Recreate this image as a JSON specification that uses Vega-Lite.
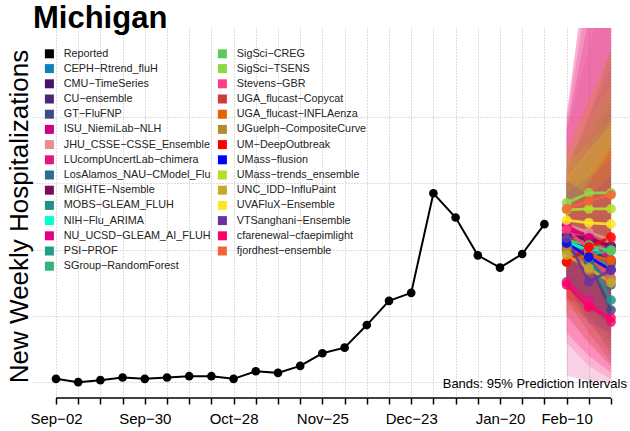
{
  "$schema": "https://vega.github.io/schema/vega-lite/v6.json",
  "width": 595,
  "height": 370,
  "autosize": {"type": "none"},
  "padding": {"left": 33, "top": 28, "right": 2, "bottom": 33},
  "background": "white",
  "config": {"view": {"stroke": null}, "font": "Liberation Sans"},
  "title": {"text": "Michigan", "anchor": "start", "frame": "group", "fontSize": 31, "fontWeight": "bold", "font": "Liberation Sans", "color": "black", "baseline": "alphabetic", "offset": 0, "dy": 31},
  "data": {"values": [
    {"model": "Reported", "date": "2023-09-02", "value": 11},
    {"model": "Reported", "date": "2023-09-09", "value": 1},
    {"model": "Reported", "date": "2023-09-16", "value": 7},
    {"model": "Reported", "date": "2023-09-23", "value": 15},
    {"model": "Reported", "date": "2023-09-30", "value": 11},
    {"model": "Reported", "date": "2023-10-07", "value": 15},
    {"model": "Reported", "date": "2023-10-14", "value": 19},
    {"model": "Reported", "date": "2023-10-21", "value": 19},
    {"model": "Reported", "date": "2023-10-28", "value": 11},
    {"model": "Reported", "date": "2023-11-04", "value": 34},
    {"model": "Reported", "date": "2023-11-11", "value": 29},
    {"model": "Reported", "date": "2023-11-18", "value": 50},
    {"model": "Reported", "date": "2023-11-25", "value": 88},
    {"model": "Reported", "date": "2023-12-02", "value": 105},
    {"model": "Reported", "date": "2023-12-09", "value": 173},
    {"model": "Reported", "date": "2023-12-16", "value": 246},
    {"model": "Reported", "date": "2023-12-23", "value": 270},
    {"model": "Reported", "date": "2023-12-30", "value": 570},
    {"model": "Reported", "date": "2024-01-06", "value": 497},
    {"model": "Reported", "date": "2024-01-13", "value": 383},
    {"model": "Reported", "date": "2024-01-20", "value": 346},
    {"model": "Reported", "date": "2024-01-27", "value": 387},
    {"model": "Reported", "date": "2024-02-03", "value": 477},
    {"model": "CEPH−Rtrend_fluH", "date": "2024-02-10", "value": 429, "lower": 300, "upper": 600},
    {"model": "CEPH−Rtrend_fluH", "date": "2024-02-17", "value": 399, "lower": 230, "upper": 690},
    {"model": "CEPH−Rtrend_fluH", "date": "2024-02-24", "value": 363, "lower": 170, "upper": 780},
    {"model": "CMU−TimeSeries", "date": "2024-02-10", "value": 444, "lower": 320, "upper": 590},
    {"model": "CMU−TimeSeries", "date": "2024-02-17", "value": 429, "lower": 260, "upper": 650},
    {"model": "CMU−TimeSeries", "date": "2024-02-24", "value": 411, "lower": 200, "upper": 720},
    {"model": "CU−ensemble", "date": "2024-02-10", "value": 435, "lower": 290, "upper": 620},
    {"model": "CU−ensemble", "date": "2024-02-17", "value": 405, "lower": 210, "upper": 720},
    {"model": "CU−ensemble", "date": "2024-02-24", "value": 363, "lower": 140, "upper": 840},
    {"model": "GT−FluFNP", "date": "2024-02-10", "value": 414, "lower": 300, "upper": 560},
    {"model": "GT−FluFNP", "date": "2024-02-17", "value": 363, "lower": 200, "upper": 600},
    {"model": "GT−FluFNP", "date": "2024-02-24", "value": 218, "lower": 80, "upper": 560},
    {"model": "ISU_NiemiLab−NLH", "date": "2024-02-10", "value": 459, "lower": 250, "upper": 760},
    {"model": "ISU_NiemiLab−NLH", "date": "2024-02-17", "value": 444, "lower": 150, "upper": 1100},
    {"model": "ISU_NiemiLab−NLH", "date": "2024-02-24", "value": 399, "lower": 60, "upper": 1500},
    {"model": "JHU_CSSE−CSSE_Ensemble", "date": "2024-02-10", "value": 474, "lower": 280, "upper": 760},
    {"model": "JHU_CSSE−CSSE_Ensemble", "date": "2024-02-17", "value": 453, "lower": 200, "upper": 1000},
    {"model": "JHU_CSSE−CSSE_Ensemble", "date": "2024-02-24", "value": 429, "lower": 120, "upper": 1300},
    {"model": "LUcompUncertLab−chimera", "date": "2024-02-10", "value": 303, "lower": 20, "upper": 780},
    {"model": "LUcompUncertLab−chimera", "date": "2024-02-17", "value": 248, "lower": 5, "upper": 1200},
    {"model": "LUcompUncertLab−chimera", "date": "2024-02-24", "value": 182, "lower": 0, "upper": 1700},
    {"model": "LosAlamos_NAU−CModel_Flu", "date": "2024-02-10", "value": 399, "lower": 260, "upper": 620},
    {"model": "LosAlamos_NAU−CModel_Flu", "date": "2024-02-17", "value": 369, "lower": 180, "upper": 800},
    {"model": "LosAlamos_NAU−CModel_Flu", "date": "2024-02-24", "value": 294, "lower": 100, "upper": 1000},
    {"model": "MIGHTE−Nsemble", "date": "2024-02-10", "value": 444, "lower": 330, "upper": 600},
    {"model": "MIGHTE−Nsemble", "date": "2024-02-17", "value": 435, "lower": 280, "upper": 700},
    {"model": "MIGHTE−Nsemble", "date": "2024-02-24", "value": 411, "lower": 230, "upper": 820},
    {"model": "MOBS−GLEAM_FLUH", "date": "2024-02-10", "value": 429, "lower": 300, "upper": 560},
    {"model": "MOBS−GLEAM_FLUH", "date": "2024-02-17", "value": 375, "lower": 220, "upper": 560},
    {"model": "MOBS−GLEAM_FLUH", "date": "2024-02-24", "value": 248, "lower": 120, "upper": 520},
    {"model": "NIH−Flu_ARIMA", "date": "2024-02-10", "value": 423, "lower": 310, "upper": 560},
    {"model": "NIH−Flu_ARIMA", "date": "2024-02-17", "value": 399, "lower": 250, "upper": 640},
    {"model": "NIH−Flu_ARIMA", "date": "2024-02-24", "value": 399, "lower": 200, "upper": 720},
    {"model": "NU_UCSD−GLEAM_AI_FLUH", "date": "2024-02-10", "value": 474, "lower": 200, "upper": 800},
    {"model": "NU_UCSD−GLEAM_AI_FLUH", "date": "2024-02-17", "value": 435, "lower": 120, "upper": 1300},
    {"model": "NU_UCSD−GLEAM_AI_FLUH", "date": "2024-02-24", "value": 369, "lower": 50, "upper": 1800},
    {"model": "PSI−PROF", "date": "2024-02-10", "value": 414, "lower": 290, "upper": 600},
    {"model": "PSI−PROF", "date": "2024-02-17", "value": 384, "lower": 220, "upper": 700},
    {"model": "PSI−PROF", "date": "2024-02-24", "value": 354, "lower": 160, "upper": 800},
    {"model": "SGroup−RandomForest", "date": "2024-02-10", "value": 405, "lower": 300, "upper": 560},
    {"model": "SGroup−RandomForest", "date": "2024-02-17", "value": 384, "lower": 240, "upper": 620},
    {"model": "SGroup−RandomForest", "date": "2024-02-24", "value": 399, "lower": 200, "upper": 700},
    {"model": "SigSci−CREG", "date": "2024-02-10", "value": 429, "lower": 330, "upper": 540},
    {"model": "SigSci−CREG", "date": "2024-02-17", "value": 414, "lower": 280, "upper": 580},
    {"model": "SigSci−CREG", "date": "2024-02-24", "value": 396, "lower": 240, "upper": 620},
    {"model": "SigSci−TSENS", "date": "2024-02-10", "value": 541, "lower": 400, "upper": 680},
    {"model": "SigSci−TSENS", "date": "2024-02-17", "value": 571, "lower": 380, "upper": 800},
    {"model": "SigSci−TSENS", "date": "2024-02-24", "value": 571, "lower": 360, "upper": 900},
    {"model": "Stevens−GBR", "date": "2024-02-10", "value": 459, "lower": 120, "upper": 810},
    {"model": "Stevens−GBR", "date": "2024-02-17", "value": 405, "lower": 50, "upper": 1300},
    {"model": "Stevens−GBR", "date": "2024-02-24", "value": 315, "lower": 10, "upper": 1700},
    {"model": "UGA_flucast−Copycat", "date": "2024-02-10", "value": 405, "lower": 260, "upper": 650},
    {"model": "UGA_flucast−Copycat", "date": "2024-02-17", "value": 384, "lower": 180, "upper": 800},
    {"model": "UGA_flucast−Copycat", "date": "2024-02-24", "value": 363, "lower": 120, "upper": 950},
    {"model": "UGA_flucast−INFLAenza", "date": "2024-02-10", "value": 363, "lower": 220, "upper": 520},
    {"model": "UGA_flucast−INFLAenza", "date": "2024-02-17", "value": 384, "lower": 200, "upper": 640},
    {"model": "UGA_flucast−INFLAenza", "date": "2024-02-24", "value": 369, "lower": 160, "upper": 760},
    {"model": "UGuelph−CompositeCurve", "date": "2024-02-10", "value": 399, "lower": 250, "upper": 650},
    {"model": "UGuelph−CompositeCurve", "date": "2024-02-17", "value": 339, "lower": 150, "upper": 750},
    {"model": "UGuelph−CompositeCurve", "date": "2024-02-24", "value": 309, "lower": 80, "upper": 850},
    {"model": "UM−DeepOutbreak", "date": "2024-02-10", "value": 363, "lower": 250, "upper": 500},
    {"model": "UM−DeepOutbreak", "date": "2024-02-17", "value": 408, "lower": 230, "upper": 620},
    {"model": "UM−DeepOutbreak", "date": "2024-02-24", "value": 438, "lower": 210, "upper": 720},
    {"model": "UMass−flusion", "date": "2024-02-10", "value": 420, "lower": 300, "upper": 570},
    {"model": "UMass−flusion", "date": "2024-02-17", "value": 378, "lower": 230, "upper": 620},
    {"model": "UMass−flusion", "date": "2024-02-24", "value": 339, "lower": 170, "upper": 670},
    {"model": "UMass−trends_ensemble", "date": "2024-02-10", "value": 520, "lower": 380, "upper": 660},
    {"model": "UMass−trends_ensemble", "date": "2024-02-17", "value": 523, "lower": 330, "upper": 720},
    {"model": "UMass−trends_ensemble", "date": "2024-02-24", "value": 523, "lower": 280, "upper": 800},
    {"model": "UNC_IDD−InfluPaint", "date": "2024-02-10", "value": 384, "lower": 200, "upper": 700},
    {"model": "UNC_IDD−InfluPaint", "date": "2024-02-17", "value": 345, "lower": 120, "upper": 850},
    {"model": "UNC_IDD−InfluPaint", "date": "2024-02-24", "value": 300, "lower": 50, "upper": 1000},
    {"model": "UVAFluX−Ensemble", "date": "2024-02-10", "value": 489, "lower": 380, "upper": 620},
    {"model": "UVAFluX−Ensemble", "date": "2024-02-17", "value": 481, "lower": 340, "upper": 700},
    {"model": "UVAFluX−Ensemble", "date": "2024-02-24", "value": 477, "lower": 300, "upper": 780},
    {"model": "VTSanghani−Ensemble", "date": "2024-02-10", "value": 435, "lower": 300, "upper": 610},
    {"model": "VTSanghani−Ensemble", "date": "2024-02-17", "value": 303, "lower": 180, "upper": 560},
    {"model": "VTSanghani−Ensemble", "date": "2024-02-24", "value": 339, "lower": 150, "upper": 620},
    {"model": "cfarenewal−cfaepimlight", "date": "2024-02-10", "value": 294, "lower": 150, "upper": 500},
    {"model": "cfarenewal−cfaepimlight", "date": "2024-02-17", "value": 227, "lower": 80, "upper": 600},
    {"model": "cfarenewal−cfaepimlight", "date": "2024-02-24", "value": 194, "lower": 30, "upper": 700},
    {"model": "fjordhest−ensemble", "date": "2024-02-10", "value": 523, "lower": 380, "upper": 700},
    {"model": "fjordhest−ensemble", "date": "2024-02-17", "value": 547, "lower": 350, "upper": 850},
    {"model": "fjordhest−ensemble", "date": "2024-02-24", "value": 565, "lower": 320, "upper": 1000}
  ]},
  "encoding": {
    "x": {
      "field": "date", "type": "temporal", "title": null,
      "scale": {"type": "utc", "domain": [1692986400000, 1709196000000], "nice": false},
      "axis": {
        "values": [1693612800000, 1694217600000, 1694822400000, 1695427200000, 1696032000000, 1696636800000, 1697241600000, 1697846400000, 1698451200000, 1699056000000, 1699660800000, 1700265600000, 1700870400000, 1701475200000, 1702080000000, 1702684800000, 1703289600000, 1703894400000, 1704499200000, 1705104000000, 1705708800000, 1706313600000, 1706918400000, 1707523200000, 1708128000000, 1708732800000],
        "labelExpr": "indexof([1693612800000, 1696032000000, 1698451200000, 1700870400000, 1703289600000, 1705708800000, 1707523200000], +datum.value) >= 0 ? utcFormat(datum.value, '%b−%d') : ''",
        "grid": true, "gridColor": "#bdbdbd", "gridDash": [1, 2], "gridWidth": 1,
        "domain": false, "ticks": true, "tickColor": "black", "tickSize": 6, "tickWidth": 1.5,
        "labelFontSize": 15, "labelColor": "black", "labelFont": "Liberation Sans", "labelPadding": 7,
        "labelOverlap": false, "labelFlush": false, "labelBound": false
      }
    },
    "color": {
      "field": "model", "type": "nominal",
      "scale": {
        "domain": ["Reported", "CEPH−Rtrend_fluH", "CMU−TimeSeries", "CU−ensemble", "GT−FluFNP", "ISU_NiemiLab−NLH", "JHU_CSSE−CSSE_Ensemble", "LUcompUncertLab−chimera", "LosAlamos_NAU−CModel_Flu", "MIGHTE−Nsemble", "MOBS−GLEAM_FLUH", "NIH−Flu_ARIMA", "NU_UCSD−GLEAM_AI_FLUH", "PSI−PROF", "SGroup−RandomForest", "SigSci−CREG", "SigSci−TSENS", "Stevens−GBR", "UGA_flucast−Copycat", "UGA_flucast−INFLAenza", "UGuelph−CompositeCurve", "UM−DeepOutbreak", "UMass−flusion", "UMass−trends_ensemble", "UNC_IDD−InfluPaint", "UVAFluX−Ensemble", "VTSanghani−Ensemble", "cfarenewal−cfaepimlight", "fjordhest−ensemble"],
        "range": ["#000000", "#0f80b8", "#4a136b", "#482878", "#3e4a89", "#cc0080", "#e88c96", "#e0177b", "#2c6b93", "#7a0f57", "#21918c", "#00ffd0", "#e3007f", "#1f9e89", "#2fb47c", "#5ec962", "#8fd744", "#ff3d7f", "#cf3a3a", "#e66100", "#b08d33", "#ff0000", "#0000ff", "#b5de2b", "#c9a82a", "#fde725", "#6b339f", "#ff0066", "#f4623a"]
      },
      "legend": {
        "orient": "none", "legendX": 11, "legendY": 20, "columns": 2, "title": null,
        "labelFontSize": 10.8, "labelFont": "Liberation Sans", "labelColor": "#222222", "labelLimit": 300,
        "symbolType": "square", "symbolSize": 81, "labelOffset": 9, "columnPadding": 6, "rowPadding": 3.2, "padding": 0,
        "symbolStrokeWidth": 0, "symbolOpacity": 1,
        "encode": {"symbols": {"update": {"fill": {"scale": "color", "field": "value"}, "stroke": {"value": "transparent"}, "opacity": {"value": 1}, "fillOpacity": {"value": 1}}}}
      }
    }
  },
  "layer": [
    {
      "transform": [{"filter": "datum.model != 'Reported'"}],
      "mark": {"type": "area", "opacity": 0.2, "clip": true},
      "encoding": {
        "y": {
          "field": "lower", "type": "quantitative", "title": "New Weekly Hospitalizations",
          "scale": {"domain": [-46.7, 1067.8], "nice": false, "zero": false},
          "axis": {
            "values": [0, 200, 400, 600, 800], "grid": true, "gridColor": "#bdbdbd", "gridDash": [1, 2], "gridWidth": 1,
            "labels": false, "ticks": false, "domain": false,
            "titleFontSize": 26, "titleFontWeight": "normal", "titleFont": "Liberation Sans", "titleColor": "black",
            "titleX": -6, "titleY": 188, "titleBaseline": "alphabetic", "titleAngle": 270, "titleAlign": "center"
          }
        },
        "y2": {"field": "upper"}
      }
    },
    {
      "transform": [{"filter": "datum.model == 'Reported'"}],
      "mark": {"type": "line", "strokeWidth": 2},
      "encoding": {"y": {"field": "value", "type": "quantitative", "title": "New Weekly Hospitalizations"}}
    },
    {
      "transform": [{"filter": "datum.model == 'Reported'"}],
      "mark": {"type": "point", "filled": true, "size": 75, "opacity": 1},
      "encoding": {"y": {"field": "value", "type": "quantitative", "title": "New Weekly Hospitalizations"}}
    },
    {
      "transform": [{"filter": "datum.model != 'Reported'"}],
      "mark": {"type": "line", "strokeWidth": 2.8, "opacity": 0.9, "clip": true},
      "encoding": {"y": {"field": "value", "type": "quantitative", "title": "New Weekly Hospitalizations"}}
    },
    {
      "transform": [{"filter": "datum.model != 'Reported'"}],
      "mark": {"type": "point", "filled": true, "size": 95, "opacity": 0.85, "clip": true},
      "encoding": {"y": {"field": "value", "type": "quantitative", "title": "New Weekly Hospitalizations"}}
    },
    {
      "data": {"values": [{"start": "2023-09-02", "end": "2024-02-24"}]},
      "mark": {"type": "rule", "strokeWidth": 1.5, "color": "black"},
      "encoding": {
        "x": {"field": "start", "type": "temporal"},
        "x2": {"field": "end"},
        "y": {"datum": -46.7, "type": "quantitative"},
        "color": {"value": "black"}
      }
    },
    {
      "data": {"values": [{"label": "Bands: 95% Prediction Intervals", "date": "2024-02-24"}]},
      "mark": {"type": "text", "align": "right", "baseline": "middle", "fontSize": 13, "font": "Liberation Sans", "dx": 16},
      "encoding": {
        "x": {"field": "date", "type": "temporal"},
        "y": {"datum": -4.5, "type": "quantitative"},
        "text": {"field": "label", "type": "nominal"},
        "color": {"value": "black"}
      }
    }
  ]
}
